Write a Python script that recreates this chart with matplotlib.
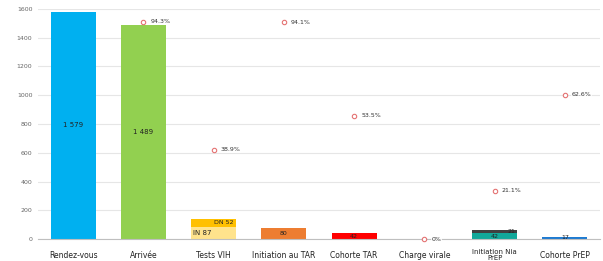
import matplotlib
matplotlib.use("Agg")
import matplotlib.pyplot as plt
import numpy as np

categories = ["Rendez-vous", "Arrivée", "Tests VIH", "Initiation au TAR",
              "Cohorte TAR", "Charge virale", "Initiation Nia\nPrEP", "Cohorte PrEP"]
# lower segment of each bar
base_values = [1579, 1489, 87, 80, 42, 0, 42, 17]
# upper segment (only the stacked bars have one)
top_values = [0, 0, 52, 0, 0, 0, 21, 0]
base_colors = ["#00B0F0", "#92D050", "#FFE38C", "#ED7D31", "#FF0000",
               "#FF0000", "#12A89A", "#1F7BD1"]
top_colors = ["none", "none", "#FFC000", "none", "none", "none", "#404040", "none"]
base_labels = ["1 579", "1 489", "IN 87", "80", "42", "", "42", "17"]
top_labels = ["", "", "DN 52", "", "", "", "21", ""]
# conversion rates (percent of previous step)
pct_idx = [1, 2, 3, 4, 5, 6, 7]
pct_values = [94.3, 38.9, 94.1, 53.5, 0.0, 21.1, 62.6]
pct_labels = ["94.3%", "38.9%", "94.1%", "53.5%", "0%", "21.1%", "62.6%"]

fig = plt.figure(figsize=(6.03, 2.61), dpi=100)
ax = fig.add_axes([0.063, 0.084, 0.932, 0.882])
x = np.arange(len(categories))
w = 0.64

ax.bar(x, base_values, w, color=base_colors, zorder=2)
for i, v in enumerate(top_values):
    if v > 0:
        ax.bar(x[i], v, w, bottom=base_values[i], color=top_colors[i], zorder=2)

for i, lab in enumerate(base_labels):
    if not lab:
        continue
    if base_values[i] > 500:
        ax.text(x[i], base_values[i] / 2, lab, ha="center", va="center",
                fontsize=5, color="#222222", zorder=3)
    elif top_values[i] > 0 and i == 2:
        ax.text(x[i] - w / 2 + 0.03, base_values[i] / 2, lab, ha="left", va="center",
                fontsize=5, color="#222222", zorder=3)
    else:
        ax.text(x[i], base_values[i] / 2, lab, ha="center", va="center",
                fontsize=4.5, color="#222222", zorder=3)
for i, lab in enumerate(top_labels):
    if lab:
        ax.text(x[i] + w / 2 - 0.03, base_values[i] + top_values[i] / 2, lab,
                ha="right", va="center", fontsize=4.5, color="#222222", zorder=3)

ax.set_xlim(-0.5, len(categories) - 0.5)
ax.set_ylim(0, 1600)
ax.set_yticks(np.arange(0, 1601, 200))
ax.set_yticklabels([str(t) for t in range(0, 1601, 200)], fontsize=4.5, color="#666666")
ax.set_xticks(x)
ax.set_xticklabels([])
ax.tick_params(length=0, pad=4)
for i, c in enumerate(categories):
    ax.text(x[i], -0.07, c, transform=ax.get_xaxis_transform(), ha="center",
            va="center", fontsize=5 if "\n" in c else 5.5, linespacing=1.1,
            color="#222222")
ax.grid(axis="y", color="#e6e6e6", linewidth=0.8, zorder=0)
for s in ["top", "right", "left"]:
    ax.spines[s].set_visible(False)
ax.spines["bottom"].set_color("#bfbfbf")

ax2 = ax.twinx()
ax2.set_ylim(0, 100)
ax2.axis("off")
ax2.scatter(pct_idx, pct_values, s=10, facecolor="white", edgecolor="#E57373",
            linewidth=0.8, zorder=4, clip_on=False)
for i, v, lab in zip(pct_idx, pct_values, pct_labels):
    ax2.text(i + 0.1, v, lab, ha="left", va="center", fontsize=4.5, color="#333333",
             bbox=dict(facecolor="white", edgecolor="none", pad=0.5, alpha=0.8), zorder=4)

fig.savefig("out.png", dpi=100)
